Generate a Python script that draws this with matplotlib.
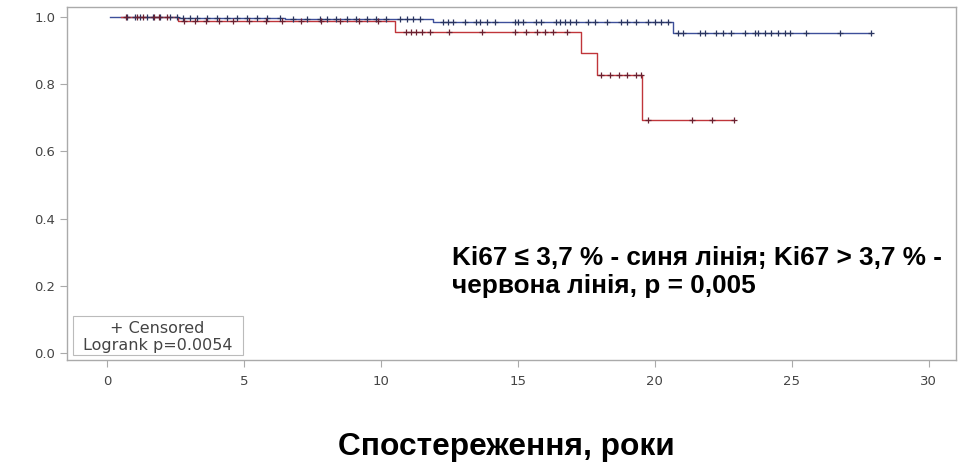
#!/usr/bin/env python3
"""Kaplan-Meier curves by Ki67 level (blue <= 3.7 %, red > 3.7 %)."""

import numpy as np
import matplotlib
matplotlib.use("Agg")
import matplotlib.pyplot as plt
from matplotlib.patches import Rectangle

plt.rcParams["font.family"] = ["Liberation Sans", "DejaVu Sans"]

# step curves: time where the level starts, survival level
blue_t = [0.1, 2.6, 6.5, 11.9, 20.65, 27.9]
blue_s = [1.0, 0.996, 0.993, 0.985, 0.952, 0.952]
red_t = [0.5, 2.6, 10.5, 17.3, 17.9, 19.55, 22.9]
red_s = [1.0, 0.99, 0.957, 0.893, 0.827, 0.693, 0.693]

# censored times
blue_cens = [0.72, 1.02, 1.2, 1.45, 1.69, 1.93, 2.3, 2.54, 2.79, 3.03, 3.27,
             3.64, 4.0, 4.37, 4.73, 5.1, 5.46, 5.83, 6.31, 6.8, 7.29, 7.77,
             8.02, 8.38, 8.75, 9.11, 9.48, 9.84, 10.2, 10.69, 10.94, 11.18,
             11.42, 12.28, 12.46, 12.64, 13.07, 13.49, 13.61, 13.86, 14.16,
             14.89, 15.01, 15.19, 15.68, 15.86, 16.41, 16.53, 16.72, 16.9,
             17.14, 17.57, 17.81, 18.24, 18.78, 18.97, 19.33, 19.76, 20.0,
             20.24, 20.49, 20.85, 21.03, 21.64, 21.82, 22.25, 22.49, 22.8,
             23.28, 23.65, 23.77, 24.01, 24.26, 24.5, 24.74, 24.93, 25.54,
             26.75, 27.9]
red_cens = [0.7, 1.1, 1.3, 1.7, 1.9, 2.2, 2.8, 3.2, 3.6, 4.1, 4.6, 5.2, 5.8,
            6.4, 7.1, 7.8, 8.5, 9.2, 9.9, 10.9, 11.1, 11.3, 11.5, 11.8, 12.5,
            13.7, 14.9, 15.3, 15.7, 16.0, 16.3, 16.8, 18.05, 18.36, 18.7,
            19.0, 19.3, 19.5, 19.75, 21.35, 22.1, 22.9]

x_ticks = [0, 5, 10, 15, 20, 25, 30]
y_ticks = [0.0, 0.2, 0.4, 0.6, 0.8, 1.0]

BLUE = "#3d4f9a"
RED = "#c0353a"


def level_at(times, levels, t):
    i = np.searchsorted(times, t, side="right") - 1
    return np.asarray(levels)[np.clip(i, 0, len(levels) - 1)]


fig = plt.figure(figsize=(9.6, 4.65), dpi=100)
ax = fig.add_axes([0.0698, 0.2258, 0.926, 0.759])

ax.step(blue_t, blue_s, where="post", color=BLUE, lw=1.0)
ax.step(red_t, red_s, where="post", color=RED, lw=1.0)
ax.plot(blue_cens, level_at(blue_t, blue_s, blue_cens), "+", color="#2a3560",
        ms=5, mew=0.9)
ax.plot(red_cens, level_at(red_t, red_s, red_cens), "+", color="#6a2030",
        ms=5, mew=0.9)

ax.set_xlim(-1.46, 31.0)
ax.set_ylim(-0.021, 1.03)
ax.set_xticks(x_ticks)
ax.set_yticks(y_ticks)
ax.set_xticklabels([str(v) for v in x_ticks], family=["DejaVu Sans"])
ax.set_yticklabels([f"{v:.1f}" for v in y_ticks], family=["DejaVu Sans"])
ax.tick_params(colors="#aaaaaa", labelcolor="#444444", labelsize=9.5,
               length=5, width=0.8)
ax.tick_params(axis="x", pad=6)
for s in ax.spines.values():
    s.set_color("#aaaaaa")
    s.set_linewidth(1.0)

# censor / logrank box
ax.add_patch(Rectangle((0.0067, 0.014), 0.191, 0.111, transform=ax.transAxes,
                       fc="white", ec="#bbbbbb", lw=0.8, zorder=3))
ax.text(0.102, 0.088, "+ Censored", transform=ax.transAxes, fontsize=11.5,
        color="#444444", ha="center", va="center", family=["DejaVu Sans"],
        zorder=4)
ax.text(0.102, 0.0425, "Logrank p=0.0054", transform=ax.transAxes,
        fontsize=11.5, color="#444444", ha="center", va="center",
        family=["DejaVu Sans"], zorder=4)

fig.text(452 / 960, 1 - 265 / 465,
         "Ki67 ≤ 3,7 % - синя лінія; Ki67 > 3,7 % -",
         fontsize=18.8, fontweight="bold", ha="left", va="baseline")
fig.text(452 / 960, 1 - 293 / 465, "червона лінія, р = 0,005",
         fontsize=18.8, fontweight="bold", ha="left", va="baseline")

fig.text(506 / 960, 1 - 455 / 465, "Спостереження, роки", fontsize=22.8,
         fontweight="bold", ha="center", va="baseline")

fig.savefig("out.png", dpi=100)
